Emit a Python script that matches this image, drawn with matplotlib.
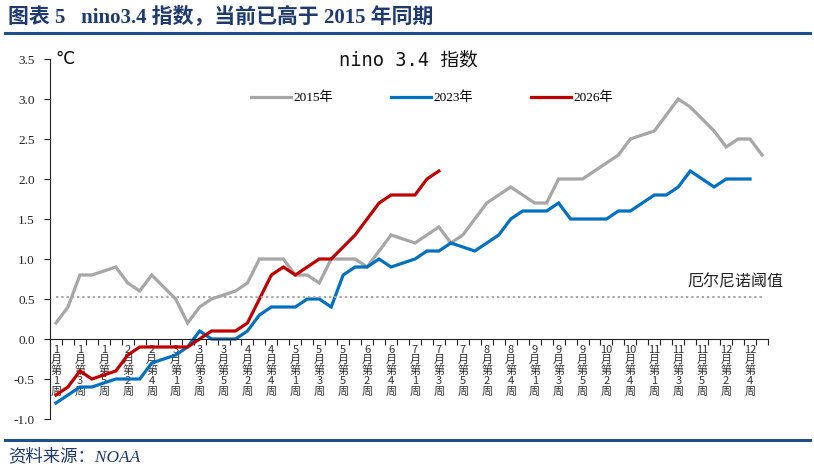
import matplotlib
matplotlib.use("Agg")
import matplotlib.pyplot as plt
from matplotlib.lines import Line2D
from matplotlib.ticker import FixedLocator, FuncFormatter

# week categories: 12 months x 5 weeks
months = list(range(1, 13))
weeks = list(range(1, 6))
cats = [f"{m}月第{w}周" for m in months for w in weeks]

v2015 = [0.2, 0.4, 0.8, 0.8, 0.85, 0.9, 0.7, 0.6, 0.8, 0.65,
         0.5, 0.2, 0.4, 0.5, 0.55, 0.6, 0.7, 1.0, 1.0, 1.0,
         0.8, 0.8, 0.7, 1.0, 1.0, 1.0, 0.9, 1.1, 1.3, 1.25,
         1.2, 1.3, 1.4, 1.2, 1.3, 1.5, 1.7, 1.8, 1.9, 1.8,
         1.7, 1.7, 2.0, 2.0, 2.0, 2.1, 2.2, 2.3, 2.5, 2.55,
         2.6, 2.8, 3.0, 2.9, 2.75, 2.6, 2.4, 2.5, 2.5, 2.3]
v2023 = [-0.8, -0.7, -0.6, -0.6, -0.55, -0.5, -0.5, -0.5, -0.3, -0.25,
         -0.2, -0.1, 0.1, 0.0, 0.0, 0.0, 0.1, 0.3, 0.4, 0.4,
         0.4, 0.5, 0.5, 0.4, 0.8, 0.9, 0.9, 1.0, 0.9, 0.95,
         1.0, 1.1, 1.1, 1.2, 1.15, 1.1, 1.2, 1.3, 1.5, 1.6,
         1.6, 1.6, 1.7, 1.5, 1.5, 1.5, 1.5, 1.6, 1.6, 1.7,
         1.8, 1.8, 1.9, 2.1, 2.0, 1.9, 2.0, 2.0, 2.0]
v2026 = [-0.7, -0.6, -0.4, -0.5, -0.45, -0.4, -0.2, -0.1, -0.1, -0.1,
         -0.1, -0.1, 0.0, 0.1, 0.1, 0.1, 0.2, 0.5, 0.8, 0.9,
         0.8, 0.9, 1.0, 1.0, 1.15, 1.3, 1.5, 1.7, 1.8, 1.8,
         1.8, 2.0, 2.1]
threshold = 0.53
yticks = [-1.0, -0.5, 0.0, 0.5, 1.0, 1.5, 2.0, 2.5, 3.0, 3.5]

navy = "#1F3A6E"
serif_cjk = ["Liberation Serif", "Noto Sans CJK SC"]

fig = plt.figure(figsize=(8.14, 4.71), dpi=100)
W, H = 814, 471
ax = fig.add_axes([50 / W, 1 - 419 / H, 718 / W, 360 / H])

x15 = list(range(len(v2015)))
x23 = list(range(len(v2023)))
x26 = list(range(len(v2026)))
ax.plot(x15, v2015, color="#A6A6A6", lw=2.3, label="2015年", solid_joinstyle="miter")
ax.plot(x23, v2023, color="#0070C0", lw=2.3, label="2023年", solid_joinstyle="miter")
ax.plot(x26, v2026, color="#C00000", lw=2.3, label="2026年", solid_joinstyle="miter")

ax.plot([0, len(cats) - 0.8], [threshold, threshold], color="#A6A6A6",
        lw=1.4, ls=(0, (1.2, 1.5)))
ax.text(1.021, threshold + 0.08, "厄尔尼诺阈值", transform=ax.get_yaxis_transform(),
        ha="right", va="bottom", fontsize=11.5, family=["Noto Sans CJK SC"], color="#222222")

ax.set_xlim(-0.5, len(cats) - 0.5)
ax.set_ylim(-1.0, 3.5)
ax.set_yticks(yticks)
ax.yaxis.set_major_formatter(FuncFormatter(lambda v, p: f"{v:.1f}"))
for lab in ax.get_yticklabels():
    lab.set_family(serif_cjk)
ax.tick_params(axis="y", direction="out", length=4, width=0.8, labelsize=9.5,
               colors="#222222", pad=7)

# x axis sits at zero, ticks between categories
ax.spines["bottom"].set_position(("data", 0))
ax.spines["top"].set_visible(False)
ax.spines["right"].set_visible(False)
ax.spines["left"].set_color("#222222")
ax.spines["bottom"].set_color("#222222")
ax.xaxis.set_minor_locator(FixedLocator([i - 0.5 for i in range(len(cats) + 1)]))
ax.xaxis.set_major_locator(FixedLocator(list(range(0, len(cats), 2))))
stacked = ["\n".join([c[:c.index("月")], "月", "第", c[c.index("第") + 1], "周"]) for c in cats]
ax.set_xticklabels(stacked[::2])
ax.tick_params(axis="x", which="major", length=0, pad=4, labelsize=8, colors="#333333")
ax.tick_params(axis="x", which="minor", direction="out", length=4, width=0.8, colors="#222222")
for lab in ax.get_xticklabels():
    lab.set_family(["Noto Sans CJK SC"])
    lab.set_linespacing(1.03)

ax.text(0.008, 1.0, "°C", transform=ax.transAxes, ha="left", va="center",
        fontsize=12, family=["DejaVu Sans"])

fig.legend(loc="center", bbox_to_anchor=(432 / W, 1 - 98 / H), ncol=3, frameon=False,
           prop={"family": serif_cjk, "size": 9.5}, handlelength=3.0, handletextpad=0.2,
           columnspacing=4.4)

fig.text(408 / W, 1 - 60 / H, "nino 3.4 指数", ha="center", va="center",
         fontsize=13.5, family=["DejaVu Sans Mono", "Noto Sans CJK SC"], color="#111111")

# header and footer
fig.text(8 / W, 1 - 17 / H, "图表 5   nino3.4 指数，当前已高于 2015 年同期", ha="left", va="center",
         fontsize=15, fontweight="bold", family=serif_cjk, color=navy)
fig.add_artist(Line2D([5 / W, 810 / W], [1 - 33 / H] * 2, color="#1F4E8C", lw=2.2))
fig.add_artist(Line2D([5 / W, 810 / W], [1 - 440 / H] * 2, color="#1F4E8C", lw=2.2))
fig.text(8 / W, 1 - 457 / H, "资料来源：NOAA", ha="left", va="center", fontsize=12.5,
         style="italic", family=serif_cjk, color=navy)

fig.savefig("out.png", dpi=100)
